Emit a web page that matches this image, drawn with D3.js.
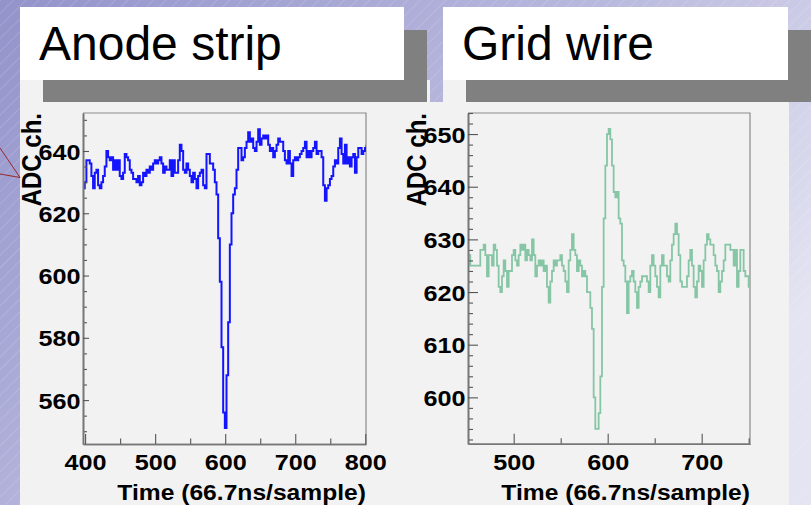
<!DOCTYPE html>
<html><head><meta charset="utf-8">
<script src="https://cdn.jsdelivr.net/npm/d3@7"></script>
<style>html,body{margin:0;padding:0;overflow:hidden;background:#fff}</style>
</head><body><svg id="c" width="811" height="505"></svg>
<script>
// ---------------- data ----------------
const panelTitles = ["Anode strip", "Grid wire"];
const xTitle = "Time (66.7ns/sample)";
const yTitle = "ADC ch.";

const anodeStart = 397.1, anodeStep = 2.381;
const anodeADC = [628,630,637,637,636,632,628,633,634,629,628,630,632,635,640,638,637,638,634,637,
634,637,632,631,633,639,638,637,634,633,631,631,630,632,629,630,633,632,634,633,
635,634,636,637,636,637,638,636,633,635,634,634,637,632,637,633,633,637,642,640,
634,633,636,634,632,630,633,631,628,632,633,634,629,628,639,639,636,636,634,630,
626,612,598,577,556,551,568,585,610,620,626,628,634,641,641,637,638,641,643,646,
643,644,641,640,643,647,642,644,645,644,645,642,640,641,638,640,642,644,643,643,
640,637,636,640,636,632,637,638,637,638,639,640,641,643,638,640,638,640,641,643,
639,640,640,638,629,624,628,629,631,632,635,637,636,641,644,639,636,642,636,638,
635,638,639,633,638,641,641,639,640,641,642];
const anodeXTicks = [400, 500, 600, 700, 800];
const anodeXMinor = [450, 550, 650, 750];
const anodeYTicks = [560, 580, 600, 620, 640];
const anodeYMinor = [550,555,565,570,575,585,590,595,605,610,615,625,630,635,645,650];

const gridStart = 452.1, gridStep = 1.773;
const gridADC = [627,625,625,625,625,625,625,628,628,629,627,623,627,627,625,629,628,625,621,620,
623,626,624,621,624,624,627,628,626,625,627,629,628,629,626,628,627,626,630,627,
623,625,626,625,626,624,625,621,618,622,624,626,625,626,626,627,625,624,622,620,
626,628,631,628,627,624,626,625,623,624,623,620,620,617,613,600,594,594,597,604,
621,634,644,650,651,649,644,639,638,639,634,633,626,625,622,616,622,623,624,622,
620,617,621,622,623,623,623,622,620,625,627,625,623,621,619,625,627,625,625,623,
622,626,629,631,633,631,627,622,621,621,621,623,626,628,625,621,619,622,625,624,
621,626,629,631,630,629,629,627,625,624,620,622,624,626,629,629,629,628,628,625,
628,621,624,628,628,624,623,623,621,617];
const gridXTicks = [500, 600, 700];
const gridXMinor = [550, 650, 750];
const gridYTicks = [600, 610, 620, 630, 640, 650];
const gridYMinor = [592,594,596,598,602,604,606,608,612,614,616,618,622,624,626,628,632,634,636,638,642,644,646,648,652,654];

// ---------------- layout ----------------
const svg = d3.select("#c");
const W = 811, H = 505;
const defs = svg.append("defs");
const grad = defs.append("linearGradient").attr("id", "bg")
  .attr("x1", 0).attr("y1", 0).attr("x2", 1).attr("y2", 0.6);
grad.append("stop").attr("offset", 0).attr("stop-color", "#9393cb");
grad.append("stop").attr("offset", 0.55).attr("stop-color", "#b9b9de");
grad.append("stop").attr("offset", 1).attr("stop-color", "#e4e4f2");
const pat = defs.append("pattern").attr("id", "hatch").attr("patternUnits", "userSpaceOnUse")
  .attr("width", 9).attr("height", 9).attr("patternTransform", "rotate(45)");
pat.append("line").attr("x1", 0).attr("y1", 0).attr("x2", 0).attr("y2", 9)
  .attr("stroke", "#ffffff").attr("stroke-opacity", 0.35).attr("stroke-width", 0.8);

svg.append("rect").attr("width", W).attr("height", H).attr("fill", "url(#bg)");
svg.append("rect").attr("width", W).attr("height", H).attr("fill", "url(#hatch)");

// light grey slide areas
svg.append("rect").attr("x", 20).attr("y", 80).attr("width", 410).attr("height", 425).attr("fill", "#f2f2f2");
svg.append("rect").attr("x", 430).attr("y", 102).attr("width", 359).attr("height", 403).attr("fill", "#f2f2f2");
svg.append("rect").attr("x", 443).attr("y", 80).attr("width", 346).attr("height", 22).attr("fill", "#f2f2f2");

// shadow bars & title boxes
svg.append("rect").attr("x", 43).attr("y", 30).attr("width", 384).attr("height", 72).attr("fill", "#808080");
svg.append("rect").attr("x", 466).attr("y", 30).attr("width", 345).attr("height", 72).attr("fill", "#808080");
svg.append("rect").attr("x", 20).attr("y", 7).attr("width", 384).attr("height", 73).attr("fill", "#ffffff");
svg.append("rect").attr("x", 443).attr("y", 7).attr("width", 345).attr("height", 73).attr("fill", "#ffffff");

svg.append("text").attr("x", 39).attr("y", 60).text(panelTitles[0])
  .attr("font-family", "Liberation Sans, Arial, sans-serif").attr("font-size", 48).attr("fill", "#000");
svg.append("text").attr("x", 462).attr("y", 60).text(panelTitles[1])
  .attr("font-family", "Liberation Sans, Arial, sans-serif").attr("font-size", 48).attr("fill", "#000");

// small red pointer lines at left edge
svg.append("path").attr("d", "M0,148 L20,177.5 M0,174 L20,177.5")
  .attr("stroke", "#9a1a1a").attr("stroke-width", 0.9).attr("fill", "none");

const FONT = "Liberation Sans, Arial, Helvetica, sans-serif";
const SX = 1.12;

function drawPlot(cfg) {
  const x = d3.scaleLinear().domain(cfg.xd).range([cfg.x0, cfg.x1]);
  const y = d3.scaleLinear().domain(cfg.yd).range([cfg.y1, cfg.y0]);
  const g = svg.append("g");
  const clipId = "clip" + cfg.id;
  defs.append("clipPath").attr("id", clipId).append("rect")
    .attr("x", cfg.x0).attr("y", cfg.y0).attr("width", cfg.x1 - cfg.x0).attr("height", cfg.y1 - cfg.y0);

  // frame (top & right)
  g.append("path").attr("d", `M${cfg.x0},${cfg.y0}H${cfg.x1}V${cfg.y1}`)
    .attr("fill", "none").attr("stroke", "#8a8a8a").attr("stroke-width", 1.2);

  // data
  const pts = cfg.values.map((v, i) => [cfg.start + i * cfg.step, v]);
  const line = d3.line().x(d => x(d[0])).y(d => y(d[1])).curve(d3.curveStepAfter);
  g.append("path").datum(pts).attr("d", line).attr("clip-path", `url(#${clipId})`)
    .attr("fill", "none").attr("stroke", cfg.color).attr("stroke-width", cfg.lw)
    .attr("stroke-linejoin", "miter");

  // minor ticks
  const xMinor = g.append("g").attr("transform", `translate(0,${cfg.y1})`)
    .call(d3.axisBottom(x).tickValues(cfg.xMinor).tickSize(-cfg.xMinLen).tickSizeOuter(0).tickFormat(""));
  const yMinor = g.append("g").attr("transform", `translate(${cfg.x0},0)`)
    .call(d3.axisLeft(y).tickValues(cfg.yMinor).tickSize(-cfg.yMinLen).tickSizeOuter(0).tickFormat(""));
  // major ticks with labels
  const xAx = g.append("g").attr("transform", `translate(0,${cfg.y1})`)
    .call(d3.axisBottom(x).tickValues(cfg.xTicks).tickSize(-cfg.xMajLen).tickSizeOuter(0).tickPadding(10.5));
  const yAx = g.append("g").attr("transform", `translate(${cfg.x0},0)`)
    .call(d3.axisLeft(y).tickValues(cfg.yTicks).tickSize(-cfg.yMajLen).tickSizeOuter(0).tickPadding(2.5));

  [xMinor, yMinor, xAx, yAx].forEach(a => {
    a.selectAll(".domain").attr("stroke", "#777").attr("stroke-width", 1.6);
    a.selectAll(".tick line").attr("stroke", "#555").attr("stroke-width", 1.1);
  });
  xAx.selectAll(".tick text").attr("font-family", FONT).attr("font-weight", "bold")
    .attr("font-size", 22.5).attr("fill", "#000").attr("transform", `scale(${SX},1)`);
  yAx.selectAll(".tick text").attr("font-family", FONT).attr("font-weight", "bold")
    .attr("font-size", 22.5).attr("fill", "#000").attr("dy", "0.36em")
    .attr("x", -2.5 / SX).attr("transform", `scale(${SX},1)`);

  // titles
  g.append("text").text(xTitle).attr("text-anchor", "end")
    .attr("transform", `translate(${cfg.x1},${cfg.y1 + 56}) scale(${SX},1)`)
    .attr("font-family", FONT).attr("font-weight", "bold").attr("font-size", 22).attr("fill", "#000");
  g.append("text").text(yTitle).attr("text-anchor", "end")
    .attr("transform", `translate(${cfg.ytx},${cfg.y0}) rotate(-90) scale(1,${SX})`)
    .attr("font-family", FONT).attr("font-weight", "bold").attr("font-size", 24).attr("fill", "#000");
}

drawPlot({
  id: "A", x0: 83, x1: 366, y0: 113, y1: 444,
  xd: [397, 801], yd: [545.9, 652.2],
  start: anodeStart, step: anodeStep, values: anodeADC,
  xTicks: anodeXTicks, xMinor: anodeXMinor, yTicks: anodeYTicks, yMinor: anodeYMinor,
  xMajLen: 10, xMinLen: 5.5, yMajLen: 6, yMinLen: 4,
  color: "#1414ff", lw: 2, ytx: 41
});
drawPlot({
  id: "G", x0: 468, x1: 750, y0: 113, y1: 443.7,
  xd: [451.4, 751.4], yd: [591.2, 654],
  start: gridStart, step: gridStep, values: gridADC,
  xTicks: gridXTicks, xMinor: gridXMinor, yTicks: gridYTicks, yMinor: gridYMinor,
  xMajLen: 10, xMinLen: 5.5, yMajLen: 10, yMinLen: 5,
  color: "#86c6a5", lw: 1.8, ytx: 426
});
</script>
</body></html>
